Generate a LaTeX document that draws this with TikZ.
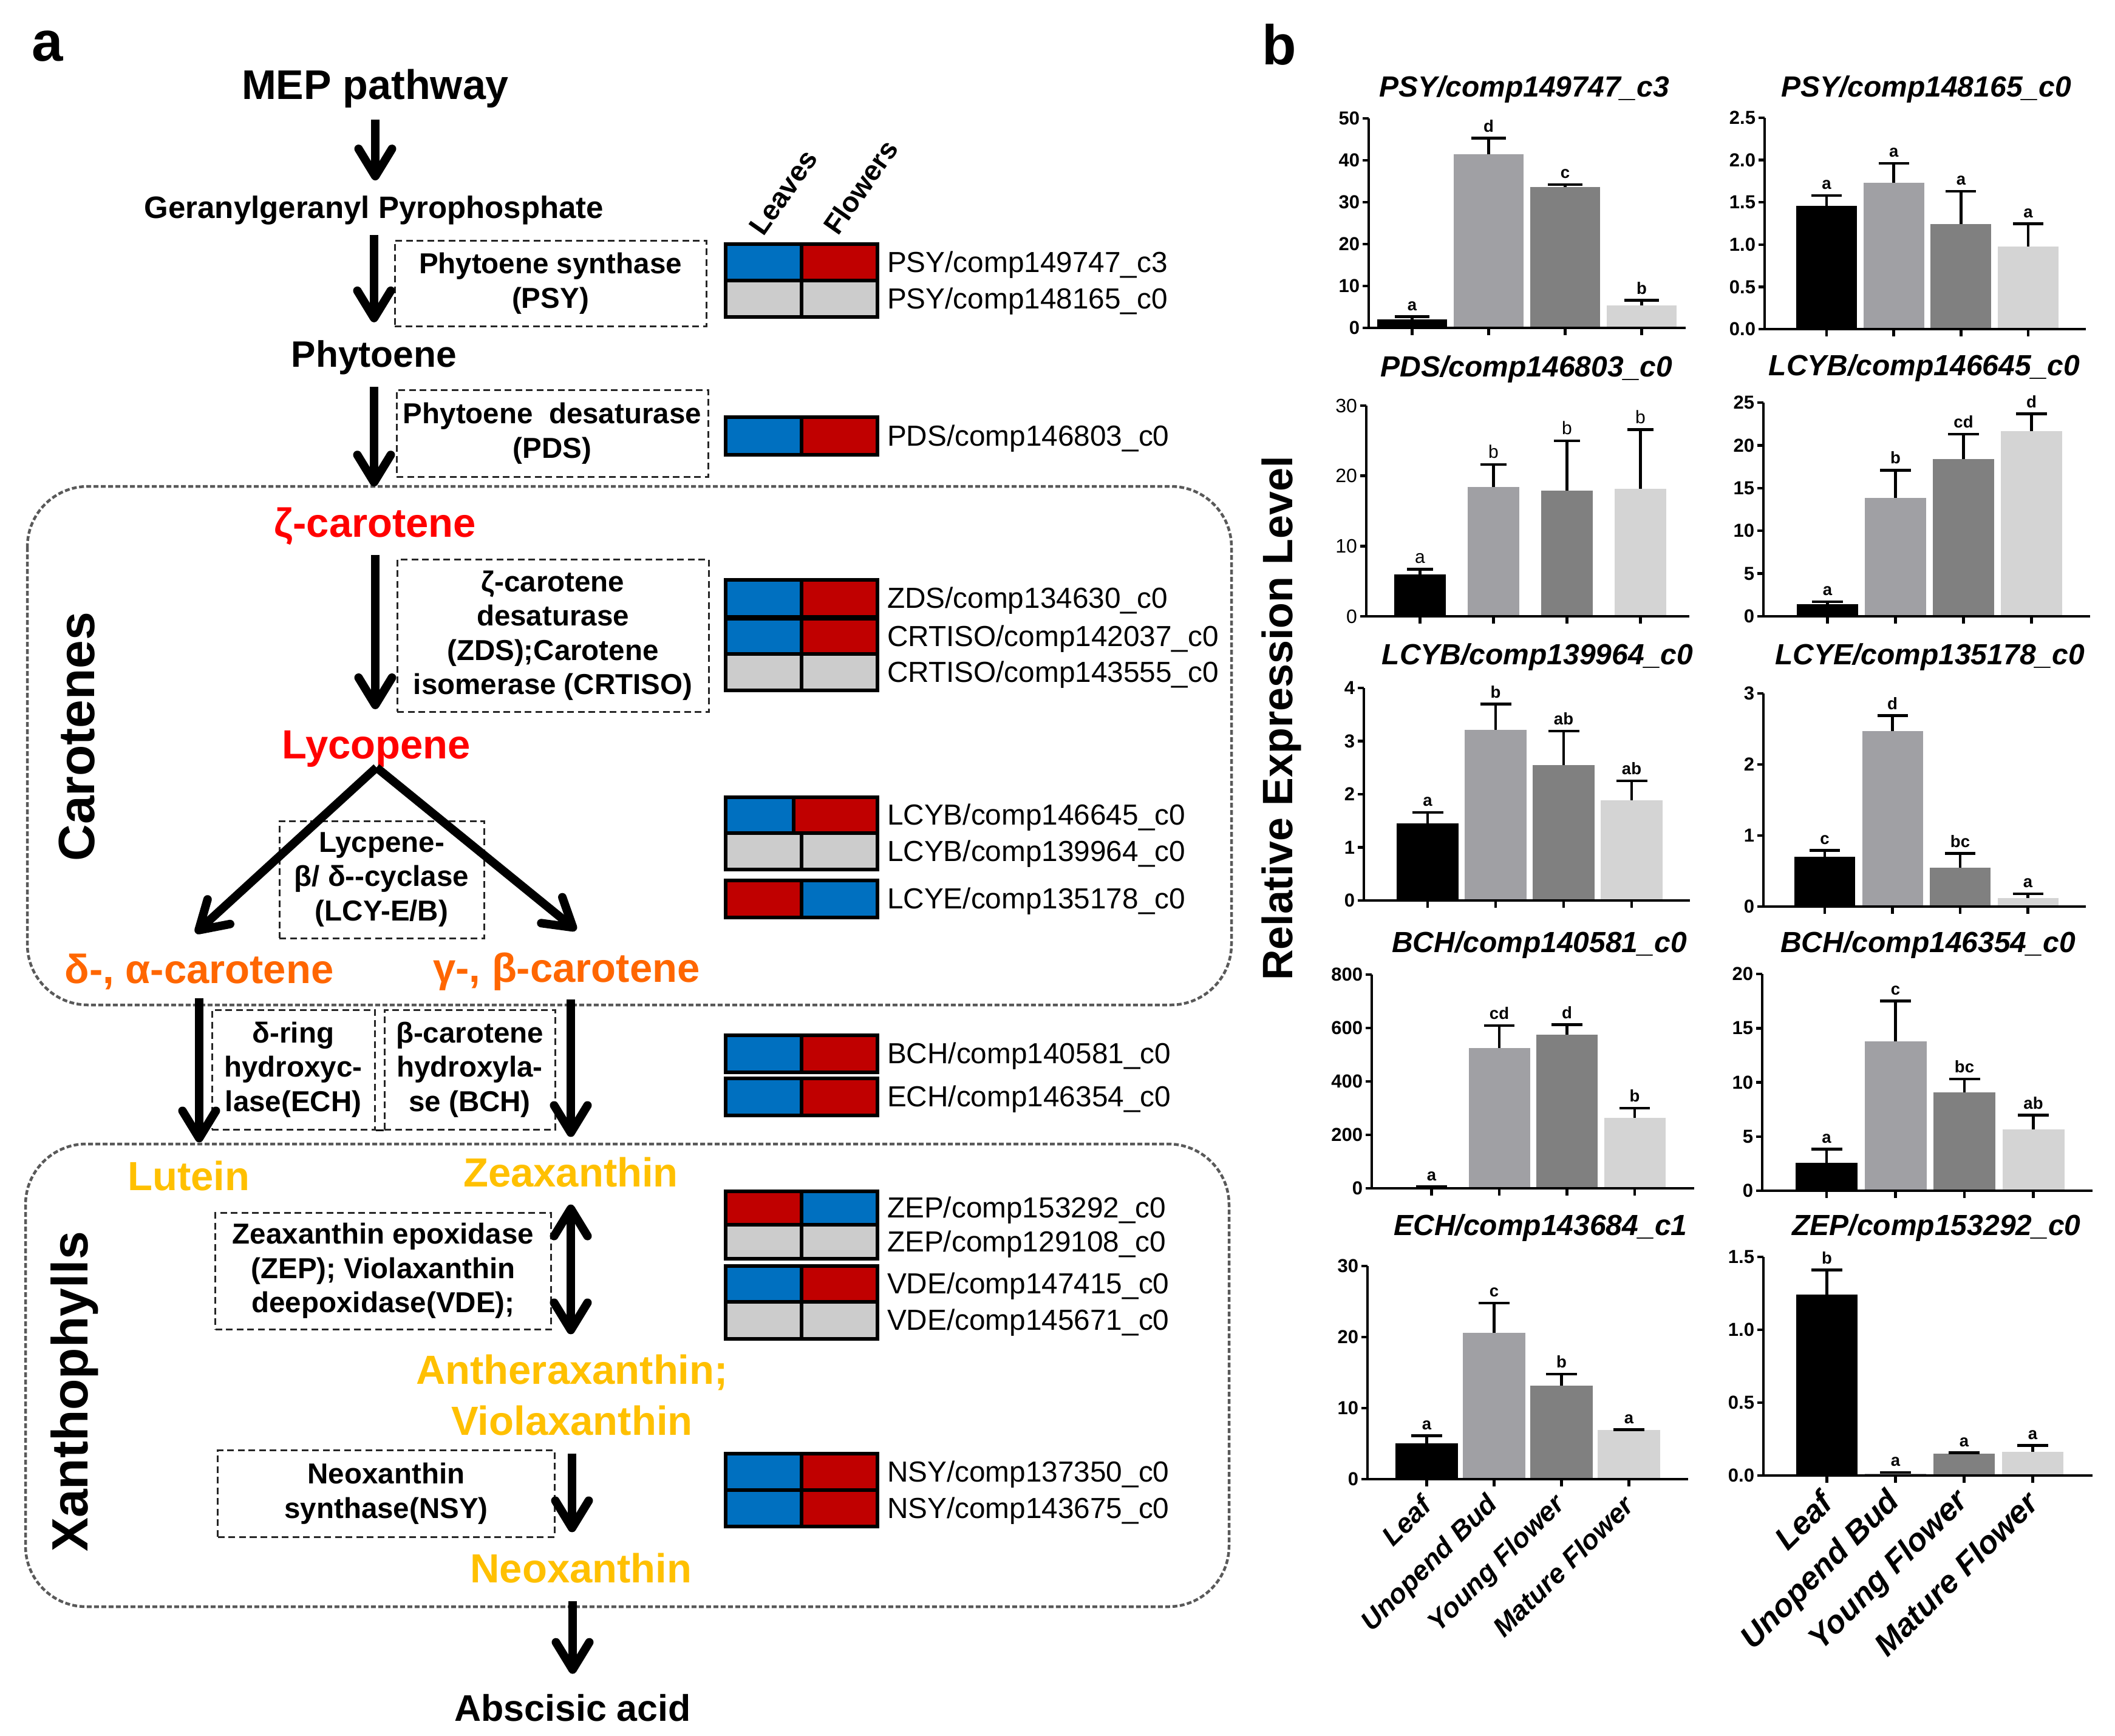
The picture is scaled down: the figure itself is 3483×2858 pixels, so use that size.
\documentclass[tikz,border=0pt]{standalone}
\usepackage{fontspec}
\setmainfont{Liberation Sans}
\usetikzlibrary{arrows.meta}

\newcommand{\fsz}[2]{\fontsize{#1pt}{#2pt}\selectfont}

\definecolor{hmblue}{HTML}{0070C0}
\definecolor{hmred}{HTML}{C00000}
\definecolor{hmgray}{HTML}{CCCCCC}
\definecolor{carred}{HTML}{FF0000}
\definecolor{carorange}{HTML}{FF6600}
\definecolor{xanyellow}{HTML}{FFC000}
\definecolor{bar0}{HTML}{000000}
\definecolor{bar1}{HTML}{A0A0A4}
\definecolor{bar2}{HTML}{808080}
\definecolor{bar3}{HTML}{D4D4D4}

% bar geometry: px per unit, first bar offset, bar width, bar pitch
\newcommand{\setbars}[4]{\def\ppu{#1}\def\boff{#2}\def\bwd{#3}\def\bpitch{#4}}
% #1 name, #2 origin, #3 x axis length, #4 top value, #5 ticks, #6 bars
\newcommand{\barchart}[6]{%
  \begin{scope}[shift={#2}]
    \foreach \val/\err/\sig [count=\i from 0] in {#6} {
      \pgfmathsetmacro{\bl}{\boff+\i*\bpitch}
      \pgfmathsetmacro{\bc}{\bl+\bwd/2}
      \fill[fill=bar\i] (\bl,0) rectangle ({\bl+\bwd},{-\val*\ppu});
      \draw[errbar] (\bc,{-\val*\ppu}) -- (\bc,{-\err*\ppu});
      \draw[errbar] ({\bc-\bwd/4},{-\err*\ppu}) -- ({\bc+\bwd/4},{-\err*\ppu});
      \node[siglab] (#1-s\i) at (\bc,{-\err*\ppu-9}) {\sig};
      \draw[axisline] (\bc,0) -- (\bc,12);
    }
    \draw[axisline] (0,{-#4*\ppu}) -- (0,0) -- (#3,0);
    \foreach \tv/\tl [count=\j] in {#5} {
      \draw[axisline] (0,{-\tv*\ppu}) -- (-10,{-\tv*\ppu});
      \node[ticklab] (#1-y\j) at (-14,{-\tv*\ppu}) {\tl};
    }
  \end{scope}}

\begin{document}
\begin{tikzpicture}[x=0.2pt,y=-0.2pt,
  comp/.style={inner sep=0pt, font=\bfseries\fsz{13.4}{16.8}},
  enzbox/.style={draw=black!85, line width=0.6pt, dash pattern=on 2.2pt off 1.3pt, inner sep=0pt, align=center, font=\bfseries\fsz{9.5}{11.3}},
  flow/.style={line width=2.8pt, -{Straight Barb[length=9pt,width=11pt,round]}},
  grpbox/.style={draw=black!65, line width=0.9pt, dash pattern=on 1.6pt off 0.8pt, rounded corners=20pt},
  hmcell/.style={draw=black, line width=1.2pt},
  hmlab/.style={inner sep=0pt, anchor=west, font=\fsz{9.55}{11}},
  axisline/.style={line width=0.9pt},
  errbar/.style={line width=0.9pt},
  ticklab/.style={inner sep=0pt, anchor=east, font=\bfseries\fsz{6.2}{7}},
  siglab/.style={inner sep=0pt, anchor=south, font=\bfseries\fsz{5.5}{6}},
  ctitle/.style={inner sep=0pt, font=\bfseries\itshape\fsz{9.6}{11}},
  xlab/.style={inner sep=0pt, anchor=east, rotate=45, font=\bfseries\itshape\fsz{9}{10}}]

\useasboundingbox (0,0) rectangle (3483,2858);

%Shape: Rounded Rect
\draw[grpbox] (45,801) rectangle (2028,1655);
\draw[grpbox] (42,1884) rectangle (2024,2646);

% Text Node
\node[inner sep=0pt, font=\bfseries\fsz{18.5}{20}] (lbla) at (78,76) {a};
\node[inner sep=0pt, font=\bfseries\fsz{18.5}{20}] (lblb) at (2107,73) {b};
\node[inner sep=0pt, rotate=90, font=\bfseries\fsz{16.8}{18}] (carlab) at (127,1213) {Carotenes};
\node[inner sep=0pt, rotate=90, font=\bfseries\fsz{16.8}{18}] (xanlab) at (123,2292) {Xanthophylls};

% Text Node
\node[comp, font=\bfseries\fsz{13.65}{16}] (mep) at (618,146) {MEP pathway};
\node[comp, font=\bfseries\fsz{10.2}{12}] (ggpp) at (616,346) {Geranylgeranyl Pyrophosphate};
\node[comp, font=\bfseries\fsz{12.1}{14}] (phy) at (616,589) {Phytoene};
\node[comp, text=carred] (zcar) at (618,867) {ζ-carotene};
\node[comp, text=carred] (lyc) at (620,1233) {Lycopene};
\node[comp, text=carorange] (dac) at (328,1600) {δ-, α-carotene};
\node[comp, text=carorange] (gbc) at (933,1600) {γ-, β-carotene};
\node[comp, text=xanyellow] (lut) at (311,1937) {Lutein};
\node[comp, text=xanyellow] (zea) at (940,1931) {Zeaxanthin};
\node[comp, text=xanyellow, align=center] (anth) at (942,2298) {Antheraxanthin;\\Violaxanthin};
\node[comp, text=xanyellow] (neo) at (957,2583) {Neoxanthin};
\node[comp, font=\bfseries\fsz{12.2}{14}] (abs) at (943,2813) {Abscisic acid};

% Text Node
\node[enzbox, minimum width=102.6pt, minimum height=28.2pt] (psy) at (906.5,466.5) {Phytoene synthase\\(PSY)};
\node[enzbox, minimum width=102.6pt, minimum height=28.6pt] (pds) at (909.5,713.5) {Phytoene~~desaturase\\(PDS)};
\node[enzbox, minimum width=102.6pt, minimum height=50.2pt] (zds) at (910.5,1046.5) {ζ-carotene\\desaturase\\(ZDS);Carotene\\isomerase (CRTISO)};
\node[enzbox, minimum width=67.4pt, minimum height=38.6pt] (lcy) at (628.5,1448.5) {Lycpene-\\β/ δ-{}-cyclase\\(LCY-E/B)};
\node[enzbox, minimum width=53.6pt, minimum height=39.4pt] (ech) at (483,1761.5) {δ-ring\\hydroxyc-\\lase(ECH)};
\node[enzbox, minimum width=56.2pt, minimum height=39.4pt] (bch) at (773.5,1761.5) {β-carotene\\hydroxyla-\\se (BCH)};
\node[enzbox, minimum width=110.4pt, minimum height=38.4pt] (zep) at (631,2093) {Zeaxanthin epoxidase\\(ZEP); Violaxanthin\\deepoxidase(VDE);};
\node[enzbox, minimum width=110.8pt, minimum height=28.6pt] (nsy) at (636,2459.5) {Neoxanthin\\synthase(NSY)};
\draw[line width=0.6pt] (ech.south east) -- (bch.south west);

%Straight Lines
\draw[flow, shorten <=3.6pt, shorten >=4.8pt] (mep.south) -- (mep.south |- ggpp.north);
\draw[flow, shorten <=3.2pt, shorten >=5.8pt] (ggpp.south) -- (ggpp.south |- phy.north);
\draw[flow, shorten <=3.8pt, shorten >=6.8pt] (phy.south) -- (phy.south |- zcar.north);
\draw[flow, shorten <=3pt, shorten >=6.8pt] (zcar.south) -- (zcar.south |- lyc.north);
\draw[flow] (lyc.south) -- ([xshift=-1.2pt,yshift=6.6pt]dac.north);
\draw[flow] (lyc.south) -- ([xshift=3.2pt,yshift=7.2pt]gbc.north);
\draw[flow, shorten <=2.8pt, shorten >=6pt] (dac.south) -- (dac.south |- lut.north);
\draw[flow, shorten <=2.8pt, shorten >=6.6pt] (zea.north |- gbc.south) -- (zea.north);
\draw[flow, {Straight Barb[length=9pt,width=11pt,round]}-{Straight Barb[length=9pt,width=11pt,round]}, shorten <=5.4pt, shorten >=6.6pt] (zea.south) -- (zea.south |- anth.north);
\draw[flow, shorten <=5.6pt, shorten >=6.8pt] (anth.south) -- (anth.south |- neo.north);
\draw[flow, shorten <=5.6pt, shorten >=6.6pt] (abs.north |- neo.south) -- (abs.north);

% Text Node
\node[inner sep=0pt, rotate=55, font=\bfseries\fsz{9.3}{10}] (lvs) at (1290,317) {Leaves};
\node[inner sep=0pt, rotate=55, font=\bfseries\fsz{9.3}{10}] (flw) at (1417,308) {Flowers};

%Shape: Heatmap
\foreach \yt/\yb/\cl/\cr/\sp/\g/\n [count=\k] in {
  402/462/hmblue/hmred/1320/PSY/149747\_c3,
  462/522/hmgray/hmgray/1320/PSY/148165\_c0,
  687/749/hmblue/hmred/1320/PDS/146803\_c0,
  955/1016/hmblue/hmred/1320/ZDS/134630\_c0,
  1019/1077/hmblue/hmred/1320/CRTISO/142037\_c0,
  1077/1137/hmgray/hmgray/1320/CRTISO/143555\_c0,
  1313/1372/hmblue/hmred/1307/LCYB/146645\_c0,
  1372/1432/hmgray/hmgray/1320/LCYB/139964\_c0,
  1450/1511/hmred/hmblue/1320/LCYE/135178\_c0,
  1705/1766/hmblue/hmred/1320/BCH/140581\_c0,
  1776/1837/hmblue/hmred/1320/ECH/146354\_c0,
  1962/2017/hmred/hmblue/1320/ZEP/153292\_c0,
  2017/2073/hmgray/hmgray/1320/ZEP/129108\_c0,
  2085/2144/hmblue/hmred/1320/VDE/147415\_c0,
  2144/2205/hmgray/hmgray/1320/VDE/145671\_c0,
  2394/2454/hmblue/hmred/1320/NSY/137350\_c0,
  2454/2514/hmblue/hmred/1320/NSY/143675\_c0}
{
  \draw[hmcell, fill=\cl] (1195,\yt) rectangle (\sp,\yb);
  \draw[hmcell, fill=\cr] (\sp,\yt) rectangle (1445,\yb);
  \node[hmlab] (hm\k) at (1460,{(\yt+\yb)/2+4}) {\g/comp\n};
}

% Text Node
\node[inner sep=0pt, rotate=90, font=\bfseries\fsz{14}{16}] (ylab) at (2110,1183) {Relative Expression Level};

% Chart titles
\node[ctitle] (t1) at (2510,147) {PSY/comp149747\_c3};
\node[ctitle] (t2) at (3172,147) {PSY/comp148165\_c0};
\node[ctitle] (t3) at (2514,608) {PDS/comp146803\_c0};
\node[ctitle] (t4) at (3169,606) {LCYB/comp146645\_c0};
\node[ctitle] (t5) at (2532,1082) {LCYB/comp139964\_c0};
\node[ctitle] (t6) at (3178,1082) {LCYE/comp135178\_c0};
\node[ctitle] (t7) at (2535,1556) {BCH/comp140581\_c0};
\node[ctitle] (t8) at (3175,1556) {BCH/comp146354\_c0};
\node[ctitle] (t9) at (2537,2022) {ECH/comp143684\_c1};
\node[ctitle] (t10) at (3189,2022) {ZEP/comp153292\_c0};

% Charts
\setbars{6.9}{14}{115}{126}
\barchart{c1}{(2254,540)}{522}{50}{0/0,10/10,20/20,30/30,40/40,50/50}{2.0/2.7/a,41.4/45.3/d,33.6/34.2/c,5.4/6.6/b}
\setbars{139.2}{52}{100}{110.7}
\barchart{c2}{(2906,542)}{529}{2.5}{0/0.0,0.5/0.5,1/1.0,1.5/1.5,2/2.0,2.5/2.5}{1.46/1.58/a,1.73/1.96/a,1.24/1.63/a,0.98/1.245/a}
\begin{scope}[ticklab/.append style={font=\mdseries\fsz{6.4}{7}}, siglab/.append style={font=\mdseries\fsz{6}{7}}]
\setbars{11.567}{46}{85}{121}
\barchart{c3}{(2250,1015)}{532}{30}{0/0,10/10,20/20,30/30}{6.0/6.7/a,18.4/21.6/b,17.9/25.0/b,18.2/26.6/b}
\end{scope}
\setbars{14.08}{55}{101}{112}
\barchart{c4}{(2904,1015)}{538}{25}{0/0,5/5,10/10,15/15,20/20,25/25}{1.43/1.72/a,13.86/17.1/b,18.4/21.3/cd,21.65/23.7/d}
\setbars{87.5}{54}{102}{112}
\barchart{c5}{(2246,1483)}{537}{4}{0/0,1/1,2/2,3/3,4/4}{1.455/1.66/a,3.21/3.70/b,2.55/3.19/ab,1.89/2.25/ab}
\setbars{117}{51}{100}{111.5}
\barchart{c6}{(2904,1493)}{531}{3}{0/0,1/1,2/2,3/3}{0.70/0.79/c,2.47/2.69/d,0.55/0.75/bc,0.12/0.18/a}
\setbars{0.44}{48}{101}{111.5}
\barchart{c7}{(2259,1957)}{531}{800}{0/0,200/200,400/400,600/600,800/800}{5/6/a,526/609/cd,574/613/d,264/300/b}
\setbars{17.85}{55}{102}{113.5}
\barchart{c8}{(2902,1961)}{544}{20}{0/0,5/5,10/10,15/15,20/20}{2.59/3.84/a,13.8/17.5/c,9.05/10.3/bc,5.64/6.97/ab}
\setbars{11.7}{46}{103}{111}
\barchart{c9}{(2252,2436)}{528}{30}{0/0,10/10,20/20,30/30}{5.06/6.1/a,20.6/24.8/c,13.2/14.8/b,6.9/6.95/a}
\setbars{240}{54}{101}{113}
\barchart{c10}{(2904,2430)}{542}{1.5}{0/0.0,0.5/0.5,1/1.0,1.5/1.5}{1.242/1.41/b,0.012/0.02/a,0.152/0.157/a,0.164/0.206/a}

% Text Node
\foreach \lab [count=\i from 0] in {Leaf,Unopend Bud,Young Flower,Mature Flower}
  \node[xlab] (x9-\i) at ({2349.5+\i*111},2471) {\lab};
\foreach \lab [count=\i from 0] in {Leaf,Unopend Bud,Young Flower,Mature Flower}
  \node[xlab, font=\bfseries\itshape\fsz{10.5}{12}] (x10-\i) at ({3008.5+\i*113},2465) {\lab};

\end{tikzpicture}
\end{document}
